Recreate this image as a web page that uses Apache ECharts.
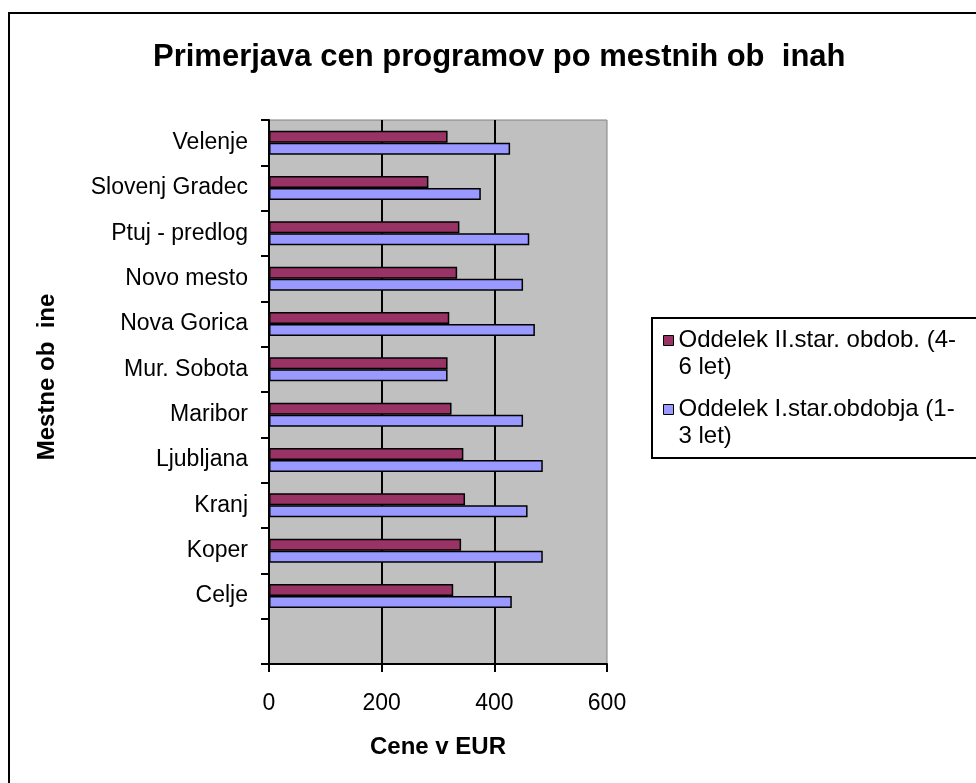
<!DOCTYPE html>
<html>
<head>
<meta charset="utf-8">
<script src="https://cdn.jsdelivr.net/npm/echarts@6/dist/echarts.min.js"></script>
<style>
html,body{margin:0;padding:0;background:#fff;}
#chart{width:976px;height:783px;}
</style>
</head>
<body>
<div id="chart"></div>
<script>
// Categories, bottom to top
const categories = ['Celje', 'Koper', 'Kranj', 'Ljubljana', 'Maribor', 'Mur. Sobota', 'Nova Gorica', 'Novo mesto', 'Ptuj - predlog', 'Slovenj Gradec', 'Velenje'];
const seriesIIName = 'Oddelek II.star. obdob. (4-6 let)';
const seriesIName = 'Oddelek I.star.obdobja (1-3 let)';
const valuesII = [327, 341, 348, 345, 324, 317, 320, 334, 338, 283, 317];
const valuesI = [431, 486, 459, 486, 451, 317, 472, 451, 462, 376, 428];
const xTicks = [0, 200, 400, 600];

const titleText = 'Primerjava cen programov po mestnih ob  inah';
const yName = 'Mestne ob  ine';
const xName = 'Cene v EUR';

const FONT = '"Liberation Sans", Arial, sans-serif';

// an empty slot at the bottom of the category axis, as in the reference
const yData = [''].concat(categories);
const dataII = [null].concat(valuesII);
const dataI = [null].concat(valuesI);

const chart = echarts.init(document.getElementById('chart'), null, {renderer: 'canvas'});

// wrap after "(4-" and add an empty first line so the first text line sits level with the icon
function wrapName(n) { return '\n' + n.replace(/-(?=\d)/, '-\n'); }

const legendText = {fontFamily: FONT, fontSize: 24, color: '#000', lineHeight: 27};

const option = {
  backgroundColor: '#fff',
  animation: false,
  title: {
    text: titleText,
    left: 148,
    top: 37,
    textStyle: {fontFamily: FONT, fontSize: 31, fontWeight: 'bold', color: '#000'}
  },
  graphic: [
    {type: 'rect', shape: {x: 9, y: 13, width: 1000, height: 1000},
     style: {fill: 'none', stroke: '#000', lineWidth: 2}, z: 100},
    {type: 'rect', shape: {x: 652, y: 318, width: 400, height: 140},
     style: {fill: 'none', stroke: '#000', lineWidth: 2}, z: 100}
  ],
  legend: [
    {
      data: [seriesIIName], orient: 'vertical', left: 663, top: 300, padding: 0,
      itemWidth: 10, itemHeight: 10, icon: 'rect', itemGap: 0,
      itemStyle: {borderColor: '#000', borderWidth: 1},
      formatter: wrapName, textStyle: legendText, selectedMode: false
    },
    {
      data: [seriesIName], orient: 'vertical', left: 663, top: 369, padding: 0,
      itemWidth: 10, itemHeight: 10, icon: 'rect', itemGap: 0,
      itemStyle: {borderColor: '#000', borderWidth: 1},
      formatter: wrapName, textStyle: legendText, selectedMode: false
    }
  ],
  grid: {
    left: 269, right: 369, top: 120, bottom: 119,
    show: true, backgroundColor: '#c0c0c0', borderColor: '#808080', borderWidth: 1,
    containLabel: false
  },
  xAxis: {
    type: 'value', min: xTicks[0], max: xTicks[xTicks.length - 1], interval: xTicks[1] - xTicks[0],
    name: xName, nameLocation: 'middle', nameGap: 71,
    nameTextStyle: {fontFamily: FONT, fontSize: 24, fontWeight: 'bold', color: '#000'},
    axisLine: {show: true, lineStyle: {color: '#000', width: 2}},
    axisTick: {show: true, length: 8, lineStyle: {color: '#000', width: 2}},
    axisLabel: {fontFamily: FONT, fontSize: 23, color: '#000', margin: 28},
    splitLine: {show: true, showMinLine: false, showMaxLine: false, lineStyle: {color: '#000', width: 2}}
  },
  yAxis: {
    type: 'category', data: yData,
    name: yName, nameLocation: 'middle', nameGap: 210, nameRotate: 90,
    nameTextStyle: {fontFamily: FONT, fontSize: 24, fontWeight: 'bold', color: '#000', padding: [0, 0, 0, 30]},
    axisLine: {show: true, lineStyle: {color: '#000', width: 2}},
    axisTick: {show: true, length: 8, alignWithLabel: false, lineStyle: {color: '#000', width: 2}},
    axisLabel: {fontFamily: FONT, fontSize: 23, color: '#000', margin: 21, interval: 0},
    splitLine: {show: false}
  },
  series: [
    {
      name: seriesIIName, type: 'bar', data: dataII, barWidth: 12, barGap: '0%',
      itemStyle: {color: '#993366', borderColor: '#000', borderWidth: 1.5}
    },
    {
      name: seriesIName, type: 'bar', data: dataI, barWidth: 12, barGap: '0%',
      itemStyle: {color: '#9999ff', borderColor: '#000', borderWidth: 1.5}
    }
  ]
};
chart.setOption(option);
</script>
</body>
</html>
